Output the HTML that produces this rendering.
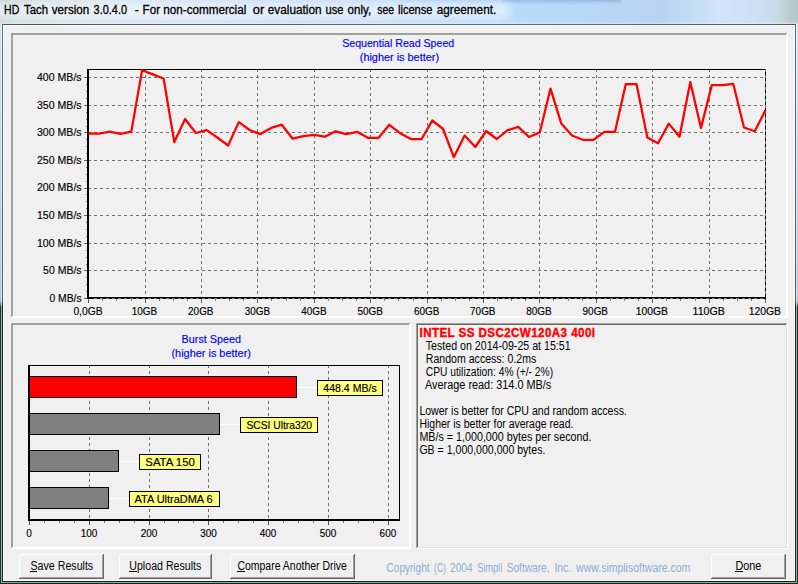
<!DOCTYPE html>
<html><head><meta charset="utf-8"><title>HD Tach</title>
<style>html,body{margin:0;padding:0;background:#f0f0f0;overflow:hidden}svg{display:block;position:absolute;left:0;top:0}text{font-family:"Liberation Sans",sans-serif}</style>
</head><body>
<svg width="798" height="584" viewBox="0 0 798 584">
<defs>
<linearGradient id="tb" x1="0" y1="0" x2="1" y2="0"><stop offset="0" stop-color="#c6d5d8"/><stop offset="0.03" stop-color="#cfdcdf"/><stop offset="0.08" stop-color="#d6e2e8"/><stop offset="0.14" stop-color="#d6e4f0"/><stop offset="0.20" stop-color="#d2e2f4"/><stop offset="0.45" stop-color="#c5dcf7"/><stop offset="0.62" stop-color="#badbfb"/><stop offset="0.77" stop-color="#b8d7f7"/><stop offset="0.83" stop-color="#b7d3f1"/><stop offset="0.90" stop-color="#d0e4fa"/><stop offset="0.95" stop-color="#cce0f5"/><stop offset="0.975" stop-color="#c6dae6"/><stop offset="0.99" stop-color="#bccccf"/><stop offset="1" stop-color="#b3c6ca"/></linearGradient>
<linearGradient id="tbv" x1="0" y1="0" x2="0" y2="1"><stop offset="0" stop-color="#ffffff" stop-opacity="0"/><stop offset="0.9" stop-color="#ffffff" stop-opacity="0"/><stop offset="1" stop-color="#ffffff" stop-opacity="0.4"/></linearGradient>
<linearGradient id="band" x1="0" y1="0" x2="0" y2="1"><stop offset="0" stop-color="#8fb1e0" stop-opacity="0.85"/><stop offset="0.5" stop-color="#9dbde6" stop-opacity="0.5"/><stop offset="1" stop-color="#9dbde6" stop-opacity="0"/></linearGradient>
<linearGradient id="sideL" x1="0" y1="0" x2="0" y2="1"><stop offset="0" stop-color="#d5e3ea"/><stop offset="0.47" stop-color="#b0cad8"/><stop offset="0.495" stop-color="#a9c5d4"/><stop offset="0.506" stop-color="#153a28"/><stop offset="1" stop-color="#153a28"/></linearGradient>
<linearGradient id="sideL2" x1="0" y1="0" x2="0" y2="1"><stop offset="0" stop-color="#eef5fa"/><stop offset="0.495" stop-color="#d5e6ee"/><stop offset="0.506" stop-color="#9aada5"/><stop offset="1" stop-color="#9aada5"/></linearGradient>
<linearGradient id="sideD" x1="0" y1="0" x2="0" y2="1"><stop offset="0" stop-color="#566a78"/><stop offset="0.495" stop-color="#4f5d60"/><stop offset="0.506" stop-color="#1b2a22"/><stop offset="1" stop-color="#1b2a22"/></linearGradient>
<linearGradient id="dk" x1="0" y1="0" x2="1" y2="0"><stop offset="0" stop-color="#48585b"/><stop offset="0.3" stop-color="#52646e"/><stop offset="0.65" stop-color="#566a78"/><stop offset="0.95" stop-color="#52646e"/><stop offset="1" stop-color="#4a5a5d"/></linearGradient>
<filter id="glow" x="-5%" y="-80%" width="110%" height="260%"><feGaussianBlur stdDeviation="4"/></filter>
</defs>
<rect x="0" y="0" width="798" height="584" fill="#f0f0f0"/>
<rect x="0" y="0" width="798" height="24" fill="url(#tb)"/>
<rect x="0" y="0" width="798" height="24" fill="url(#tbv)"/>
<rect x="502" y="0" width="120" height="5" rx="2" fill="url(#band)"/>
<rect x="400" y="0" width="102" height="4" fill="url(#band)" opacity="0.35"/>
<rect x="-10" y="3" width="520" height="16" fill="#ffffff" opacity="0.55" filter="url(#glow)"/>
<g shape-rendering="crispEdges">
<rect x="0" y="24" width="1" height="560" fill="url(#sideL)"/>
<rect x="1" y="24" width="1" height="560" fill="url(#sideL2)"/>
<rect x="2" y="24" width="1" height="558" fill="url(#sideD)"/>
<rect x="797" y="24" width="1" height="560" fill="url(#sideL)"/>
<rect x="796" y="24" width="1" height="560" fill="url(#sideL2)"/>
<rect x="795" y="24" width="1" height="558" fill="url(#sideD)"/>
<rect x="2" y="24" width="794" height="1" fill="url(#dk)"/>
<rect x="3" y="25" width="792" height="1" fill="#f9f9f9"/>
<rect x="3" y="25" width="1" height="556" fill="#fdfdfd"/>
<rect x="794" y="25" width="1" height="556" fill="#fdfdfd"/>
<rect x="3" y="580" width="792" height="1" fill="#ffffff"/>
<rect x="2" y="581" width="794" height="1" fill="#15251c"/>
<rect x="0" y="582" width="798" height="1" fill="#93a89f"/>
<rect x="0" y="583" width="798" height="1" fill="#0c2e1d"/>
<rect x="0" y="582" width="1" height="2" fill="#153a28"/>
<rect x="797" y="582" width="1" height="2" fill="#153a28"/>
</g>
<text x="4.1" y="13.8" font-size="12" fill="#000" stroke="#000" stroke-width="0.3" textLength="15.1" lengthAdjust="spacingAndGlyphs">HD</text>
<text x="24.1" y="13.8" font-size="12" fill="#000" stroke="#000" stroke-width="0.3" textLength="23.9" lengthAdjust="spacingAndGlyphs">Tach</text>
<text x="51.8" y="13.8" font-size="12" fill="#000" stroke="#000" stroke-width="0.3" textLength="37.5" lengthAdjust="spacingAndGlyphs">version</text>
<text x="93.6" y="13.8" font-size="12" fill="#000" stroke="#000" stroke-width="0.3" textLength="33.4" lengthAdjust="spacingAndGlyphs">3.0.4.0</text>
<text x="134.8" y="13.8" font-size="12" fill="#000" stroke="#000" stroke-width="0.3" textLength="4.0" lengthAdjust="spacingAndGlyphs">-</text>
<text x="142.6" y="13.8" font-size="12" fill="#000" stroke="#000" stroke-width="0.3" textLength="17.4" lengthAdjust="spacingAndGlyphs">For</text>
<text x="163.3" y="13.8" font-size="12" fill="#000" stroke="#000" stroke-width="0.3" textLength="83.0" lengthAdjust="spacingAndGlyphs">non-commercial</text>
<text x="252.8" y="13.8" font-size="12" fill="#000" stroke="#000" stroke-width="0.3" textLength="11.4" lengthAdjust="spacingAndGlyphs">or</text>
<text x="267.8" y="13.8" font-size="12" fill="#000" stroke="#000" stroke-width="0.3" textLength="53.7" lengthAdjust="spacingAndGlyphs">evaluation</text>
<text x="325.6" y="13.8" font-size="12" fill="#000" stroke="#000" stroke-width="0.3" textLength="17.9" lengthAdjust="spacingAndGlyphs">use</text>
<text x="347.6" y="13.8" font-size="12" fill="#000" stroke="#000" stroke-width="0.3" textLength="23.6" lengthAdjust="spacingAndGlyphs">only,</text>
<text x="377.3" y="13.8" font-size="12" fill="#000" stroke="#000" stroke-width="0.3" textLength="16.8" lengthAdjust="spacingAndGlyphs">see</text>
<text x="398" y="13.8" font-size="12" fill="#000" stroke="#000" stroke-width="0.3" textLength="34.4" lengthAdjust="spacingAndGlyphs">license</text>
<text x="436.8" y="13.8" font-size="12" fill="#000" stroke="#000" stroke-width="0.3" textLength="59.4" lengthAdjust="spacingAndGlyphs">agreement.</text>
<g shape-rendering="crispEdges">
<rect x="11" y="33" width="777" height="1" fill="#a0a0a0"/><rect x="11" y="33" width="1" height="285" fill="#a0a0a0"/><rect x="12" y="34" width="775" height="1" fill="#a0a0a0"/><rect x="12" y="34" width="1" height="283" fill="#a0a0a0"/><rect x="12" y="316" width="775" height="1" fill="#ffffff"/><rect x="786" y="34" width="1" height="283" fill="#ffffff"/><rect x="11" y="317" width="777" height="1" fill="#ffffff"/><rect x="787" y="33" width="1" height="285" fill="#ffffff"/>
<rect x="11" y="323" width="400" height="1" fill="#a0a0a0"/><rect x="11" y="323" width="1" height="226" fill="#a0a0a0"/><rect x="12" y="324" width="398" height="1" fill="#a0a0a0"/><rect x="12" y="324" width="1" height="224" fill="#a0a0a0"/><rect x="12" y="547" width="398" height="1" fill="#ffffff"/><rect x="409" y="324" width="1" height="224" fill="#ffffff"/><rect x="11" y="548" width="400" height="1" fill="#ffffff"/><rect x="410" y="323" width="1" height="226" fill="#ffffff"/>
<rect x="416" y="323" width="372" height="1" fill="#a0a0a0"/><rect x="416" y="323" width="1" height="226" fill="#a0a0a0"/><rect x="417" y="324" width="370" height="1" fill="#696969"/><rect x="417" y="324" width="1" height="224" fill="#696969"/><rect x="417" y="547" width="370" height="1" fill="#e3e3e3"/><rect x="786" y="324" width="1" height="224" fill="#e3e3e3"/><rect x="416" y="548" width="372" height="1" fill="#ffffff"/><rect x="787" y="323" width="1" height="226" fill="#ffffff"/>
</g>
<g shape-rendering="crispEdges">
<line x1="88" y1="270.5" x2="766" y2="270.5" stroke="#707070" stroke-width="1" stroke-dasharray="3 3"/>
<line x1="88" y1="243.5" x2="766" y2="243.5" stroke="#707070" stroke-width="1" stroke-dasharray="3 3"/>
<line x1="88" y1="215.5" x2="766" y2="215.5" stroke="#707070" stroke-width="1" stroke-dasharray="3 3"/>
<line x1="88" y1="188.5" x2="766" y2="188.5" stroke="#707070" stroke-width="1" stroke-dasharray="3 3"/>
<line x1="88" y1="160.5" x2="766" y2="160.5" stroke="#707070" stroke-width="1" stroke-dasharray="3 3"/>
<line x1="88" y1="132.5" x2="766" y2="132.5" stroke="#707070" stroke-width="1" stroke-dasharray="3 3"/>
<line x1="88" y1="105.5" x2="766" y2="105.5" stroke="#707070" stroke-width="1" stroke-dasharray="3 3"/>
<line x1="88" y1="77.5" x2="766" y2="77.5" stroke="#707070" stroke-width="1" stroke-dasharray="3 3"/>
<line x1="145.5" y1="69" x2="145.5" y2="297" stroke="#707070" stroke-width="1" stroke-dasharray="3 3"/>
<line x1="201.5" y1="69" x2="201.5" y2="297" stroke="#707070" stroke-width="1" stroke-dasharray="3 3"/>
<line x1="257.5" y1="69" x2="257.5" y2="297" stroke="#707070" stroke-width="1" stroke-dasharray="3 3"/>
<line x1="314.5" y1="69" x2="314.5" y2="297" stroke="#707070" stroke-width="1" stroke-dasharray="3 3"/>
<line x1="370.5" y1="69" x2="370.5" y2="297" stroke="#707070" stroke-width="1" stroke-dasharray="3 3"/>
<line x1="427.5" y1="69" x2="427.5" y2="297" stroke="#707070" stroke-width="1" stroke-dasharray="3 3"/>
<line x1="483.5" y1="69" x2="483.5" y2="297" stroke="#707070" stroke-width="1" stroke-dasharray="3 3"/>
<line x1="539.5" y1="69" x2="539.5" y2="297" stroke="#707070" stroke-width="1" stroke-dasharray="3 3"/>
<line x1="596.5" y1="69" x2="596.5" y2="297" stroke="#707070" stroke-width="1" stroke-dasharray="3 3"/>
<line x1="652.5" y1="69" x2="652.5" y2="297" stroke="#707070" stroke-width="1" stroke-dasharray="3 3"/>
<line x1="709.5" y1="69" x2="709.5" y2="297" stroke="#707070" stroke-width="1" stroke-dasharray="3 3"/>
<rect x="87" y="69" width="679" height="1" fill="#000"/>
<rect x="765" y="69" width="1" height="230" fill="#000"/>
<line x1="765.5" y1="69" x2="765.5" y2="297" stroke="#707070" stroke-width="1" stroke-dasharray="3 3"/>
<rect x="87" y="69" width="2" height="230" fill="#000"/>
<rect x="87" y="297" width="679" height="2" fill="#000"/>
<line x1="94" y1="298.5" x2="766" y2="298.5" stroke="#707070" stroke-width="1" stroke-dasharray="3 3"/>
<rect x="84" y="298" width="3" height="1" fill="#606060"/>
<rect x="86" y="291" width="1" height="1" fill="#707070"/>
<rect x="86" y="284" width="1" height="1" fill="#707070"/>
<rect x="86" y="277" width="1" height="1" fill="#707070"/>
<rect x="84" y="270" width="3" height="1" fill="#606060"/>
<rect x="86" y="264" width="1" height="1" fill="#707070"/>
<rect x="86" y="257" width="1" height="1" fill="#707070"/>
<rect x="86" y="250" width="1" height="1" fill="#707070"/>
<rect x="84" y="243" width="3" height="1" fill="#606060"/>
<rect x="86" y="236" width="1" height="1" fill="#707070"/>
<rect x="86" y="229" width="1" height="1" fill="#707070"/>
<rect x="86" y="222" width="1" height="1" fill="#707070"/>
<rect x="84" y="215" width="3" height="1" fill="#606060"/>
<rect x="86" y="208" width="1" height="1" fill="#707070"/>
<rect x="86" y="201" width="1" height="1" fill="#707070"/>
<rect x="86" y="194" width="1" height="1" fill="#707070"/>
<rect x="84" y="188" width="3" height="1" fill="#606060"/>
<rect x="86" y="181" width="1" height="1" fill="#707070"/>
<rect x="86" y="174" width="1" height="1" fill="#707070"/>
<rect x="86" y="167" width="1" height="1" fill="#707070"/>
<rect x="84" y="160" width="3" height="1" fill="#606060"/>
<rect x="86" y="153" width="1" height="1" fill="#707070"/>
<rect x="86" y="146" width="1" height="1" fill="#707070"/>
<rect x="86" y="139" width="1" height="1" fill="#707070"/>
<rect x="84" y="132" width="3" height="1" fill="#606060"/>
<rect x="86" y="126" width="1" height="1" fill="#707070"/>
<rect x="86" y="119" width="1" height="1" fill="#707070"/>
<rect x="86" y="112" width="1" height="1" fill="#707070"/>
<rect x="84" y="105" width="3" height="1" fill="#606060"/>
<rect x="86" y="98" width="1" height="1" fill="#707070"/>
<rect x="86" y="91" width="1" height="1" fill="#707070"/>
<rect x="86" y="84" width="1" height="1" fill="#707070"/>
<rect x="84" y="77" width="3" height="1" fill="#606060"/>
<rect x="88" y="299" width="1" height="4" fill="#606060"/>
<rect x="102" y="299" width="1" height="2" fill="#808080"/>
<rect x="116" y="299" width="1" height="2" fill="#808080"/>
<rect x="131" y="299" width="1" height="2" fill="#808080"/>
<rect x="145" y="299" width="1" height="4" fill="#606060"/>
<rect x="159" y="299" width="1" height="2" fill="#808080"/>
<rect x="173" y="299" width="1" height="2" fill="#808080"/>
<rect x="187" y="299" width="1" height="2" fill="#808080"/>
<rect x="201" y="299" width="1" height="4" fill="#606060"/>
<rect x="215" y="299" width="1" height="2" fill="#808080"/>
<rect x="229" y="299" width="1" height="2" fill="#808080"/>
<rect x="243" y="299" width="1" height="2" fill="#808080"/>
<rect x="257" y="299" width="1" height="4" fill="#606060"/>
<rect x="271" y="299" width="1" height="2" fill="#808080"/>
<rect x="286" y="299" width="1" height="2" fill="#808080"/>
<rect x="300" y="299" width="1" height="2" fill="#808080"/>
<rect x="314" y="299" width="1" height="4" fill="#606060"/>
<rect x="328" y="299" width="1" height="2" fill="#808080"/>
<rect x="342" y="299" width="1" height="2" fill="#808080"/>
<rect x="356" y="299" width="1" height="2" fill="#808080"/>
<rect x="370" y="299" width="1" height="4" fill="#606060"/>
<rect x="384" y="299" width="1" height="2" fill="#808080"/>
<rect x="398" y="299" width="1" height="2" fill="#808080"/>
<rect x="413" y="299" width="1" height="2" fill="#808080"/>
<rect x="427" y="299" width="1" height="4" fill="#606060"/>
<rect x="441" y="299" width="1" height="2" fill="#808080"/>
<rect x="455" y="299" width="1" height="2" fill="#808080"/>
<rect x="469" y="299" width="1" height="2" fill="#808080"/>
<rect x="483" y="299" width="1" height="4" fill="#606060"/>
<rect x="497" y="299" width="1" height="2" fill="#808080"/>
<rect x="511" y="299" width="1" height="2" fill="#808080"/>
<rect x="525" y="299" width="1" height="2" fill="#808080"/>
<rect x="539" y="299" width="1" height="4" fill="#606060"/>
<rect x="553" y="299" width="1" height="2" fill="#808080"/>
<rect x="568" y="299" width="1" height="2" fill="#808080"/>
<rect x="582" y="299" width="1" height="2" fill="#808080"/>
<rect x="596" y="299" width="1" height="4" fill="#606060"/>
<rect x="610" y="299" width="1" height="2" fill="#808080"/>
<rect x="624" y="299" width="1" height="2" fill="#808080"/>
<rect x="638" y="299" width="1" height="2" fill="#808080"/>
<rect x="652" y="299" width="1" height="4" fill="#606060"/>
<rect x="666" y="299" width="1" height="2" fill="#808080"/>
<rect x="680" y="299" width="1" height="2" fill="#808080"/>
<rect x="695" y="299" width="1" height="2" fill="#808080"/>
<rect x="709" y="299" width="1" height="4" fill="#606060"/>
<rect x="723" y="299" width="1" height="2" fill="#808080"/>
<rect x="737" y="299" width="1" height="2" fill="#808080"/>
<rect x="751" y="299" width="1" height="2" fill="#808080"/>
<rect x="765" y="299" width="1" height="4" fill="#606060"/>
</g>
<polyline points="88.3,133.6 99.0,133.6 109.8,131.6 120.5,133.8 131.3,131.6 142.1,70.2 152.8,74.4 163.6,78.5 174.3,142.1 185.1,119.0 195.8,133.0 206.6,130.1 217.3,137.5 228.1,145.5 238.8,122.1 249.6,130.0 260.3,134.1 271.1,127.9 281.8,124.7 292.6,138.7 303.3,136.2 314.1,134.9 324.8,136.7 335.6,131.3 346.3,134.1 357.1,131.8 367.8,137.8 378.6,137.8 389.3,124.8 400.1,133.2 410.8,139.0 421.6,139.0 432.3,120.5 443.1,129.0 453.8,157.2 464.6,135.6 475.3,147.0 486.1,131.0 496.8,139.0 507.6,130.2 518.3,126.9 529.0,137.0 539.8,132.4 550.5,88.6 561.3,123.6 572.0,135.5 582.8,139.8 593.5,139.8 604.3,131.8 615.0,131.8 625.8,84.0 636.5,84.0 647.3,137.5 658.0,143.2 668.8,123.6 679.5,136.7 690.3,82.0 701.0,127.9 711.8,85.1 722.5,85.1 733.3,83.9 744.0,127.5 754.8,131.3 765.5,110.0" fill="none" stroke="#ff0000" stroke-width="2.25" stroke-linejoin="round" stroke-linecap="butt"/>
<text x="81.6" y="301.7" font-size="10.67" stroke="#000" stroke-width="0.15" text-anchor="end" textLength="32.2" lengthAdjust="spacingAndGlyphs">0 MB/s</text>
<text x="81.6" y="274.1" font-size="10.67" stroke="#000" stroke-width="0.15" text-anchor="end" textLength="38.5" lengthAdjust="spacingAndGlyphs">50 MB/s</text>
<text x="81.6" y="246.5" font-size="10.67" stroke="#000" stroke-width="0.15" text-anchor="end" textLength="44.6" lengthAdjust="spacingAndGlyphs">100 MB/s</text>
<text x="81.6" y="218.9" font-size="10.67" stroke="#000" stroke-width="0.15" text-anchor="end" textLength="44.6" lengthAdjust="spacingAndGlyphs">150 MB/s</text>
<text x="81.6" y="191.3" font-size="10.67" stroke="#000" stroke-width="0.15" text-anchor="end" textLength="44.6" lengthAdjust="spacingAndGlyphs">200 MB/s</text>
<text x="81.6" y="163.7" font-size="10.67" stroke="#000" stroke-width="0.15" text-anchor="end" textLength="44.6" lengthAdjust="spacingAndGlyphs">250 MB/s</text>
<text x="81.6" y="136.1" font-size="10.67" stroke="#000" stroke-width="0.15" text-anchor="end" textLength="44.6" lengthAdjust="spacingAndGlyphs">300 MB/s</text>
<text x="81.6" y="108.5" font-size="10.67" stroke="#000" stroke-width="0.15" text-anchor="end" textLength="44.6" lengthAdjust="spacingAndGlyphs">350 MB/s</text>
<text x="81.6" y="80.9" font-size="10.67" stroke="#000" stroke-width="0.15" text-anchor="end" textLength="44.6" lengthAdjust="spacingAndGlyphs">400 MB/s</text>
<text x="88" y="314.5" font-size="10.67" stroke="#000" stroke-width="0.15" text-anchor="middle" textLength="29.2" lengthAdjust="spacingAndGlyphs">0,0GB</text>
<text x="144.4" y="314.5" font-size="10.67" stroke="#000" stroke-width="0.15" text-anchor="middle" textLength="25.4" lengthAdjust="spacingAndGlyphs">10GB</text>
<text x="200.8" y="314.5" font-size="10.67" stroke="#000" stroke-width="0.15" text-anchor="middle" textLength="25.4" lengthAdjust="spacingAndGlyphs">20GB</text>
<text x="257.4" y="314.5" font-size="10.67" stroke="#000" stroke-width="0.15" text-anchor="middle" textLength="25.4" lengthAdjust="spacingAndGlyphs">30GB</text>
<text x="314" y="314.5" font-size="10.67" stroke="#000" stroke-width="0.15" text-anchor="middle" textLength="25.4" lengthAdjust="spacingAndGlyphs">40GB</text>
<text x="370.2" y="314.5" font-size="10.67" stroke="#000" stroke-width="0.15" text-anchor="middle" textLength="25.4" lengthAdjust="spacingAndGlyphs">50GB</text>
<text x="426.7" y="314.5" font-size="10.67" stroke="#000" stroke-width="0.15" text-anchor="middle" textLength="25.4" lengthAdjust="spacingAndGlyphs">60GB</text>
<text x="482.8" y="314.5" font-size="10.67" stroke="#000" stroke-width="0.15" text-anchor="middle" textLength="25.4" lengthAdjust="spacingAndGlyphs">70GB</text>
<text x="538.9" y="314.5" font-size="10.67" stroke="#000" stroke-width="0.15" text-anchor="middle" textLength="25.4" lengthAdjust="spacingAndGlyphs">80GB</text>
<text x="595.3" y="314.5" font-size="10.67" stroke="#000" stroke-width="0.15" text-anchor="middle" textLength="25.4" lengthAdjust="spacingAndGlyphs">90GB</text>
<text x="651.9" y="314.5" font-size="10.67" stroke="#000" stroke-width="0.15" text-anchor="middle" textLength="32.3" lengthAdjust="spacingAndGlyphs">100GB</text>
<text x="708.7" y="314.5" font-size="10.67" stroke="#000" stroke-width="0.15" text-anchor="middle" textLength="32.3" lengthAdjust="spacingAndGlyphs">110GB</text>
<text x="764.8" y="314.5" font-size="10.67" stroke="#000" stroke-width="0.15" text-anchor="middle" textLength="32.3" lengthAdjust="spacingAndGlyphs">120GB</text>
<text x="398.2" y="47" font-size="10.67" fill="#0000ff" stroke="#0000ff" stroke-width="0.15" text-anchor="middle" textLength="112" lengthAdjust="spacingAndGlyphs">Sequential Read Speed</text>
<text x="399.4" y="60.7" font-size="10.67" fill="#0000ff" stroke="#0000ff" stroke-width="0.15" text-anchor="middle" textLength="79.3" lengthAdjust="spacingAndGlyphs">(higher is better)</text>
<g shape-rendering="crispEdges">
<line x1="89.5" y1="365" x2="89.5" y2="519" stroke="#707070" stroke-width="1" stroke-dasharray="3 3"/>
<line x1="149.5" y1="365" x2="149.5" y2="519" stroke="#707070" stroke-width="1" stroke-dasharray="3 3"/>
<line x1="208.5" y1="365" x2="208.5" y2="519" stroke="#707070" stroke-width="1" stroke-dasharray="3 3"/>
<line x1="268.5" y1="365" x2="268.5" y2="519" stroke="#707070" stroke-width="1" stroke-dasharray="3 3"/>
<line x1="328.5" y1="365" x2="328.5" y2="519" stroke="#707070" stroke-width="1" stroke-dasharray="3 3"/>
<line x1="388.5" y1="365" x2="388.5" y2="519" stroke="#707070" stroke-width="1" stroke-dasharray="3 3"/>
<rect x="28" y="365" width="372" height="1" fill="#000"/>
<rect x="399" y="365" width="1" height="156" fill="#000"/>
<rect x="28" y="365" width="2" height="156" fill="#000"/>
<rect x="28" y="519" width="372" height="2" fill="#000"/>
<rect x="29" y="521" width="1" height="4" fill="#505050"/>
<rect x="44" y="521" width="1" height="2" fill="#707070"/>
<rect x="59" y="521" width="1" height="2" fill="#707070"/>
<rect x="74" y="521" width="1" height="2" fill="#707070"/>
<rect x="89" y="521" width="1" height="4" fill="#505050"/>
<rect x="104" y="521" width="1" height="2" fill="#707070"/>
<rect x="119" y="521" width="1" height="2" fill="#707070"/>
<rect x="134" y="521" width="1" height="2" fill="#707070"/>
<rect x="149" y="521" width="1" height="4" fill="#505050"/>
<rect x="164" y="521" width="1" height="2" fill="#707070"/>
<rect x="178" y="521" width="1" height="2" fill="#707070"/>
<rect x="193" y="521" width="1" height="2" fill="#707070"/>
<rect x="208" y="521" width="1" height="4" fill="#505050"/>
<rect x="223" y="521" width="1" height="2" fill="#707070"/>
<rect x="238" y="521" width="1" height="2" fill="#707070"/>
<rect x="253" y="521" width="1" height="2" fill="#707070"/>
<rect x="268" y="521" width="1" height="4" fill="#505050"/>
<rect x="283" y="521" width="1" height="2" fill="#707070"/>
<rect x="298" y="521" width="1" height="2" fill="#707070"/>
<rect x="313" y="521" width="1" height="2" fill="#707070"/>
<rect x="328" y="521" width="1" height="4" fill="#505050"/>
<rect x="343" y="521" width="1" height="2" fill="#707070"/>
<rect x="358" y="521" width="1" height="2" fill="#707070"/>
<rect x="373" y="521" width="1" height="2" fill="#707070"/>
<rect x="388" y="521" width="1" height="4" fill="#505050"/>
<rect x="30" y="376" width="267" height="22" fill="#000"/>
<rect x="30" y="377" width="266" height="20" fill="#ff0000"/>
<rect x="30" y="413" width="190" height="22" fill="#000"/>
<rect x="30" y="414" width="189" height="20" fill="#808080"/>
<rect x="30" y="450" width="89" height="22" fill="#000"/>
<rect x="30" y="451" width="88" height="20" fill="#808080"/>
<rect x="30" y="487" width="79" height="22" fill="#000"/>
<rect x="30" y="488" width="78" height="20" fill="#808080"/>
<rect x="297" y="387" width="20" height="1" fill="#ffffff"/>
<rect x="317" y="380" width="66" height="16" fill="#000"/>
<rect x="318" y="381" width="64" height="14" fill="#ffff80"/>
<rect x="220" y="424" width="20" height="1" fill="#ffffff"/>
<rect x="240" y="417" width="78" height="16" fill="#000"/>
<rect x="241" y="418" width="76" height="14" fill="#ffff80"/>
<rect x="119" y="461" width="20" height="1" fill="#ffffff"/>
<rect x="139" y="454" width="62" height="16" fill="#000"/>
<rect x="140" y="455" width="60" height="14" fill="#ffff80"/>
<rect x="109" y="498" width="20" height="1" fill="#ffffff"/>
<rect x="129" y="491" width="91" height="16" fill="#000"/>
<rect x="130" y="492" width="89" height="14" fill="#ffff80"/>
</g>
<text x="323.3" y="391.7" font-size="10.67" stroke="#000" stroke-width="0.15" textLength="53.4" lengthAdjust="spacingAndGlyphs">448.4 MB/s</text>
<text x="246.4" y="428.7" font-size="10.67" stroke="#000" stroke-width="0.15" textLength="65.7" lengthAdjust="spacingAndGlyphs">SCSI Ultra320</text>
<text x="145.3" y="465.7" font-size="10.67" stroke="#000" stroke-width="0.15" textLength="49.5" lengthAdjust="spacingAndGlyphs">SATA 150</text>
<text x="134.5" y="502.7" font-size="10.67" stroke="#000" stroke-width="0.15" textLength="78.2" lengthAdjust="spacingAndGlyphs">ATA UltraDMA 6</text>
<text x="29" y="536.8" font-size="10.67" stroke="#000" stroke-width="0.15" text-anchor="middle" textLength="5.6" lengthAdjust="spacingAndGlyphs">0</text>
<text x="89.1" y="536.8" font-size="10.67" stroke="#000" stroke-width="0.15" text-anchor="middle" textLength="16.6" lengthAdjust="spacingAndGlyphs">100</text>
<text x="149" y="536.8" font-size="10.67" stroke="#000" stroke-width="0.15" text-anchor="middle" textLength="16.6" lengthAdjust="spacingAndGlyphs">200</text>
<text x="208.5" y="536.8" font-size="10.67" stroke="#000" stroke-width="0.15" text-anchor="middle" textLength="16.6" lengthAdjust="spacingAndGlyphs">300</text>
<text x="268" y="536.8" font-size="10.67" stroke="#000" stroke-width="0.15" text-anchor="middle" textLength="16.6" lengthAdjust="spacingAndGlyphs">400</text>
<text x="328.1" y="536.8" font-size="10.67" stroke="#000" stroke-width="0.15" text-anchor="middle" textLength="16.6" lengthAdjust="spacingAndGlyphs">500</text>
<text x="387.9" y="536.8" font-size="10.67" stroke="#000" stroke-width="0.15" text-anchor="middle" textLength="16.6" lengthAdjust="spacingAndGlyphs">600</text>
<text x="211.3" y="342.7" font-size="10.67" fill="#0000ff" stroke="#0000ff" stroke-width="0.15" text-anchor="middle" textLength="59.4" lengthAdjust="spacingAndGlyphs">Burst Speed</text>
<text x="211.2" y="356.9" font-size="10.67" fill="#0000ff" stroke="#0000ff" stroke-width="0.15" text-anchor="middle" textLength="79.5" lengthAdjust="spacingAndGlyphs">(higher is better)</text>
<g transform="translate(419.5,336.5) scale(0.93,1)"><text x="0" y="0" font-size="12.5" font-weight="bold" fill="#ff0000" stroke="#ff0000" stroke-width="0.4" textLength="188.7" lengthAdjust="spacing">INTEL SS DSC2CW120A3 400i</text></g>
<text x="425.8" y="349.6" font-size="12.5" textLength="144.8" lengthAdjust="spacingAndGlyphs">Tested on 2014-09-25 at 15:51</text>
<text x="425.8" y="362.6" font-size="12.5" textLength="110.5" lengthAdjust="spacingAndGlyphs">Random access: 0.2ms</text>
<text x="425.8" y="375.6" font-size="12.5" textLength="127.3" lengthAdjust="spacingAndGlyphs">CPU utilization: 4% (+/- 2%)</text>
<text x="425.0" y="388.6" font-size="12.5" textLength="126.3" lengthAdjust="spacingAndGlyphs">Average read: 314.0 MB/s</text>
<text x="419.4" y="414.6" font-size="12.5" textLength="207.5" lengthAdjust="spacingAndGlyphs">Lower is better for CPU and random access.</text>
<text x="419.4" y="427.6" font-size="12.5" textLength="154.0" lengthAdjust="spacingAndGlyphs">Higher is better for average read.</text>
<text x="419.4" y="440.6" font-size="12.5" textLength="172.0" lengthAdjust="spacingAndGlyphs">MB/s = 1,000,000 bytes per second.</text>
<text x="419.4" y="453.6" font-size="12.5" textLength="126.0" lengthAdjust="spacingAndGlyphs">GB = 1,000,000,000 bytes.</text>
<g shape-rendering="crispEdges">
<rect x="19" y="554" width="85" height="25" fill="#f0f0f0"/><rect x="19" y="554" width="84" height="1" fill="#ffffff"/><rect x="19" y="554" width="1" height="24" fill="#ffffff"/><rect x="19" y="578" width="85" height="1" fill="#696969"/><rect x="103" y="554" width="1" height="25" fill="#696969"/><rect x="20" y="577" width="83" height="1" fill="#a0a0a0"/><rect x="102" y="555" width="1" height="23" fill="#a0a0a0"/>
<rect x="119" y="554" width="93" height="25" fill="#f0f0f0"/><rect x="119" y="554" width="92" height="1" fill="#ffffff"/><rect x="119" y="554" width="1" height="24" fill="#ffffff"/><rect x="119" y="578" width="93" height="1" fill="#696969"/><rect x="211" y="554" width="1" height="25" fill="#696969"/><rect x="120" y="577" width="91" height="1" fill="#a0a0a0"/><rect x="210" y="555" width="1" height="23" fill="#a0a0a0"/>
<rect x="230" y="554" width="125" height="25" fill="#f0f0f0"/><rect x="230" y="554" width="124" height="1" fill="#ffffff"/><rect x="230" y="554" width="1" height="24" fill="#ffffff"/><rect x="230" y="578" width="125" height="1" fill="#696969"/><rect x="354" y="554" width="1" height="25" fill="#696969"/><rect x="231" y="577" width="123" height="1" fill="#a0a0a0"/><rect x="353" y="555" width="1" height="23" fill="#a0a0a0"/>
<rect x="711" y="554" width="75" height="25" fill="#f0f0f0"/><rect x="711" y="554" width="74" height="1" fill="#ffffff"/><rect x="711" y="554" width="1" height="24" fill="#ffffff"/><rect x="711" y="578" width="75" height="1" fill="#696969"/><rect x="785" y="554" width="1" height="25" fill="#696969"/><rect x="712" y="577" width="73" height="1" fill="#a0a0a0"/><rect x="784" y="555" width="1" height="23" fill="#a0a0a0"/>
<rect x="30" y="571" width="7" height="1" fill="#000"/>
<rect x="129" y="571" width="8" height="1" fill="#000"/>
<rect x="237" y="571" width="8" height="1" fill="#000"/>
<rect x="735" y="571" width="8" height="1" fill="#000"/>
</g>
<text x="30.5" y="570" font-size="12.5" textLength="62.7" lengthAdjust="spacingAndGlyphs">Save Results</text>
<text x="129.3" y="570" font-size="12.5" textLength="72" lengthAdjust="spacingAndGlyphs">Upload Results</text>
<text x="237.4" y="570" font-size="12.5" textLength="109.5" lengthAdjust="spacingAndGlyphs">Compare Another Drive</text>
<text x="735.5" y="570" font-size="12.5" textLength="25.9" lengthAdjust="spacingAndGlyphs">Done</text>
<text x="386.6" y="571.8" font-size="12.5" fill="#8eadd2" textLength="42.9" lengthAdjust="spacingAndGlyphs">Copyright</text>
<text x="434.1" y="571.8" font-size="12.5" fill="#8eadd2" textLength="11.6" lengthAdjust="spacingAndGlyphs">(C)</text>
<text x="450.1" y="571.8" font-size="12.5" fill="#8eadd2" textLength="22.5" lengthAdjust="spacingAndGlyphs">2004</text>
<text x="477.2" y="571.8" font-size="12.5" fill="#8eadd2" textLength="25.0" lengthAdjust="spacingAndGlyphs">Simpli</text>
<text x="506.7" y="571.8" font-size="12.5" fill="#8eadd2" textLength="42.9" lengthAdjust="spacingAndGlyphs">Software,</text>
<text x="554.4" y="571.8" font-size="12.5" fill="#8eadd2" textLength="16.7" lengthAdjust="spacingAndGlyphs">Inc.</text>
<text x="576.1" y="571.8" font-size="12.5" fill="#8eadd2" textLength="114.2" lengthAdjust="spacingAndGlyphs">www.simplisoftware.com</text>
</svg>
</body></html>
